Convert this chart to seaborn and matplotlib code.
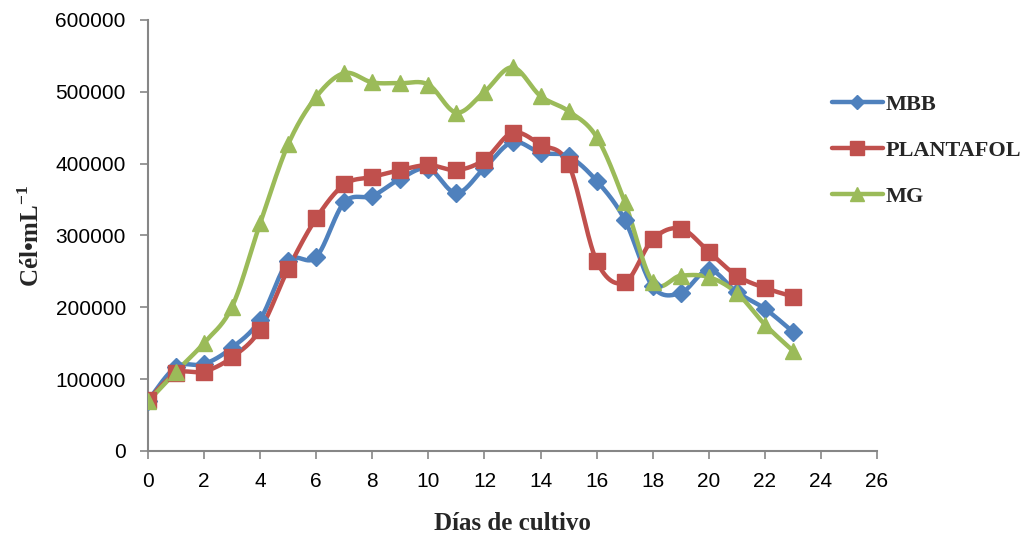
import numpy as np
import pandas as pd
import matplotlib
matplotlib.use("Agg")
import matplotlib.pyplot as plt
import seaborn as sns
from matplotlib.lines import Line2D

dias = list(range(24))
mbb = [70000, 117000, 121000, 144000, 183000, 264000, 270000, 346000, 355000, 379000,
       393000, 359000, 394000, 430000, 415000, 410000, 376000, 322000, 229000, 220000,
       252000, 221000, 198000, 166000]
plantafol = [71000, 108000, 110500, 130500, 169000, 253500, 324000, 371000, 381500, 391000,
             398000, 391000, 405500, 443000, 426500, 399000, 264500, 234700, 294500, 309500,
             277500, 244000, 227000, 215000]
mg = [69000, 110500, 150500, 201000, 317000, 427000, 493000, 526000, 513000, 512000,
      510000, 471000, 500000, 534000, 494000, 473000, 437000, 347000, 235000, 244000,
      242000, 220000, 176000, 139500]

series = ["MBB", "PLANTAFOL", "MG"]
valores = [mbb, plantafol, mg]
colores = ["#4F81BD", "#C0504D", "#9BBB59"]
marcadores = ["D", "s", "^"]
tam_marcador = [9, 12, 12]


def suavizar(x, y, n=30):
    """Bezier smoothing of a polyline (Catmull-Rom control points)."""
    x = np.asarray(x, float)
    y = np.asarray(y, float)
    xs, ys = [], []
    m = len(x)
    t = np.linspace(0, 1, n, endpoint=False)
    for i in range(m - 1):
        i0 = max(i - 1, 0)
        i3 = min(i + 2, m - 1)
        p0 = np.array([x[i], y[i]])
        p3 = np.array([x[i + 1], y[i + 1]])
        p1 = p0 + (np.array([x[i + 1], y[i + 1]]) - np.array([x[i0], y[i0]])) / 6
        p2 = p3 - (np.array([x[i3], y[i3]]) - np.array([x[i], y[i]])) / 6
        b = ((1 - t) ** 3)[:, None] * p0 + (3 * (1 - t) ** 2 * t)[:, None] * p1 \
            + (3 * (1 - t) * t ** 2)[:, None] * p2 + (t ** 3)[:, None] * p3
        xs.append(b[:, 0])
        ys.append(b[:, 1])
    xs.append([x[-1]])
    ys.append([y[-1]])
    return np.concatenate(xs), np.concatenate(ys)


sns.set_theme(style="white")
plt.rcParams["font.family"] = ["Liberation Sans", "DejaVu Sans"]
plt.rcParams["mathtext.fontset"] = "custom"
plt.rcParams["mathtext.rm"] = "Liberation Serif"
plt.rcParams["mathtext.bf"] = "Liberation Serif:bold"

fig = plt.figure(figsize=(10.33, 5.39), dpi=100)
ax = fig.add_axes([0.1433, 0.1633, 0.7057, 0.7997])

for nombre, vals, col, mk, ms in zip(series, valores, colores, marcadores, tam_marcador):
    xs, ys = suavizar(dias, vals)
    curva = pd.DataFrame({"x": xs, "y": ys})
    sns.lineplot(data=curva, x="x", y="y", ax=ax, color=col, lw=3.2,
                 sort=False, estimator=None, zorder=2)
    puntos = pd.DataFrame({"x": dias, "y": vals})
    ax.plot(puntos["x"], puntos["y"], ls="none", marker=mk, ms=ms,
            color=col, mec=col, zorder=3)

ax.set_xlim(0, 26)
ax.set_ylim(0, 600000)
ax.set_xticks(range(0, 27, 2))
ax.set_yticks(range(0, 600001, 100000))
ax.tick_params(axis="both", which="major", direction="out", length=6, width=1.2,
               color="#868686", labelsize=15, labelcolor="black",
               bottom=True, left=True)
ax.tick_params(axis="y", pad=10)
ax.tick_params(axis="x", pad=9)
for lado in ["top", "right"]:
    ax.spines[lado].set_visible(False)
for lado in ["left", "bottom"]:
    ax.spines[lado].set_color("#868686")
    ax.spines[lado].set_linewidth(1.5)

ax.set_xlabel("Días de cultivo", fontsize=18, fontweight="bold",
              family=["Liberation Serif"], labelpad=15)
ax.set_ylabel("Cél•mL$^{\\mathbf{-1}}$", fontsize=18, fontweight="bold",
              family=["Liberation Serif", "DejaVu Serif"], labelpad=8)

manejadores = [Line2D([0], [0], color=c, lw=3.2, marker=m, ms=s * 0.8, mec=c)
               for c, m, s in zip(colores, marcadores, tam_marcador)]
leg = fig.legend(manejadores, series, loc="upper left", bbox_to_anchor=(0.786, 0.862),
                 frameon=False, handlelength=2.3, handletextpad=0.1, labelspacing=1.15,
                 prop={"family": "Liberation Serif", "weight": "bold", "size": 16})

fig.savefig("out.png", dpi=100)
